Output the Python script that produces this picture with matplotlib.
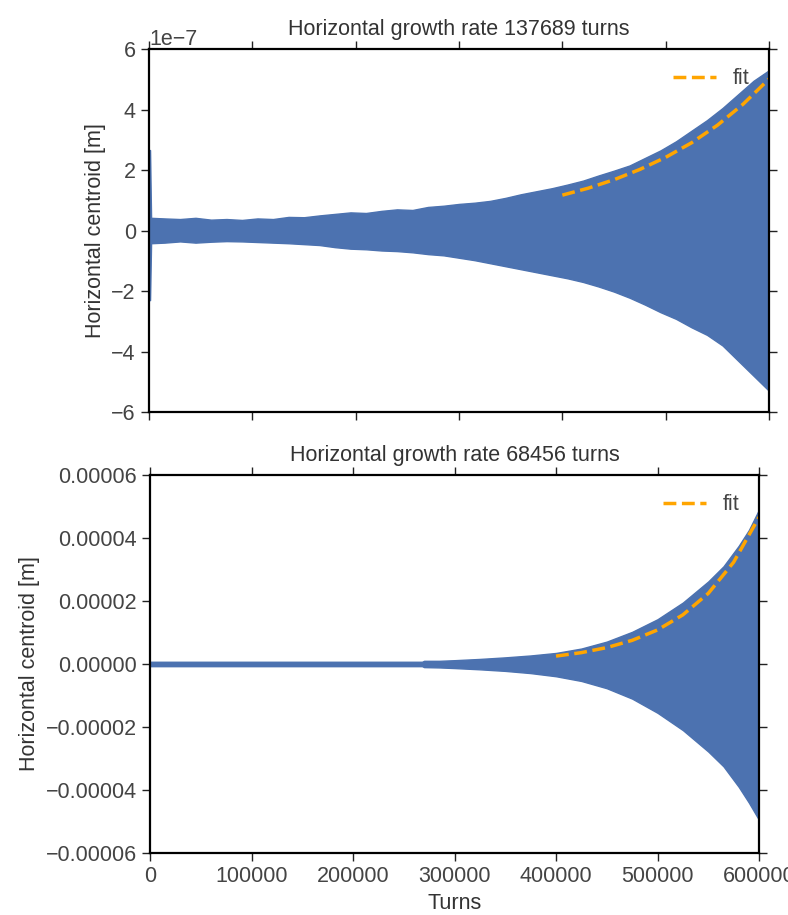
import matplotlib
matplotlib.use("Agg")
import matplotlib.pyplot as plt
from matplotlib.ticker import ScalarFormatter

plt.rcParams['font.family'] = ['Liberation Sans', 'DejaVu Sans']

# top panel envelope, values in units of 1e-7 m
turns_a = [0, 1000, 2000, 15000, 30000, 45000, 60000, 75000, 90000, 105000, 120000,
           135000, 150000, 165000, 180000, 195000, 210000, 225000, 240000, 255000,
           270000, 285000, 300000, 315000, 330000, 345000, 360000, 375000, 390000,
           405000, 420000, 435000, 450000, 465000, 480000, 495000, 510000, 525000,
           540000, 555000, 570000, 585000, 600000]
upper_a = [2.66, 2.66, 0.42, 0.40, 0.38, 0.42, 0.36, 0.38, 0.35, 0.40, 0.38,
           0.45, 0.44, 0.50, 0.55, 0.60, 0.58, 0.65, 0.70, 0.68,
           0.78, 0.82, 0.88, 0.92, 0.98, 1.08, 1.20, 1.30, 1.40,
           1.52, 1.65, 1.82, 1.98, 2.15, 2.40, 2.65, 2.95, 3.30,
           3.65, 4.05, 4.50, 4.95, 5.30]
lower_a = [-2.30, -2.30, -0.42, -0.40, -0.36, -0.40, -0.37, -0.35, -0.36, -0.38, -0.40,
           -0.42, -0.45, -0.48, -0.55, -0.60, -0.62, -0.66, -0.68, -0.72,
           -0.78, -0.82, -0.90, -0.98, -1.08, -1.18, -1.28, -1.38, -1.48,
           -1.58, -1.70, -1.85, -2.02, -2.22, -2.45, -2.70, -2.92, -3.20,
           -3.45, -3.80, -4.30, -4.80, -5.30]
fit_turns_a = [400000, 425000, 450000, 475000, 500000, 525000, 550000, 575000, 600000]
fit_a = [1.17, 1.40, 1.68, 2.02, 2.42, 2.90, 3.48, 4.18, 5.01]

# bottom panel envelope, values in units of 1e-5 m
turns_b = [0, 100000, 200000, 268000, 270000, 285000, 300000, 325000, 350000, 375000,
           400000, 425000, 450000, 475000, 500000, 525000, 550000, 565000, 580000,
           590000, 600000]
upper_b = [0.07, 0.07, 0.07, 0.07, 0.10, 0.10, 0.12, 0.16, 0.21, 0.27,
           0.35, 0.49, 0.71, 1.02, 1.42, 1.95, 2.62, 3.10, 3.75,
           4.25, 4.90]
lower_b = [-0.07, -0.07, -0.07, -0.07, -0.10, -0.11, -0.13, -0.17, -0.22, -0.29,
           -0.39, -0.54, -0.77, -1.10, -1.55, -2.10, -2.78, -3.25, -3.90,
           -4.40, -4.95]
fit_turns_b = [400000, 425000, 450000, 475000, 500000, 525000, 550000, 575000, 600000]
fit_b = [0.25, 0.36, 0.52, 0.75, 1.08, 1.56, 2.24, 3.23, 4.66]

blue = '#4c72b0'
text_col = '#333333'
fs = 15.5

fig = plt.figure(figsize=(7.88, 9.15), dpi=100)
ax1 = fig.add_axes([0.1891, 0.5497, 0.7868, 0.3967])
ax2 = fig.add_axes([0.1904, 0.0678, 0.7728, 0.4131])

panels = [
    (ax1, turns_a, upper_a, lower_a, fit_turns_a, fit_a, 1e-7, 6e-7, 137689),
    (ax2, turns_b, upper_b, lower_b, fit_turns_b, fit_b, 1e-5, 6e-5, 68456),
]

for ax, t, up, lo, ft, fv, scale, lim, rate in panels:
    ax.fill_between(t, [u * scale for u in up], [l * scale for l in lo],
                    color=blue, linewidth=1, edgecolor=blue)
    ax.plot(ft, [v * scale for v in fv], '--', color='orange', linewidth=2.5, label='fit')
    ax.set_xlim(0, 600000)
    ax.set_ylim(-lim, lim)
    ax.set_xticks([0, 100000, 200000, 300000, 400000, 500000, 600000])
    ax.set_title(f'Horizontal growth rate {rate} turns', fontsize=fs, color=text_col, pad=10)
    ax.set_ylabel('Horizontal centroid [m]', fontsize=fs, color=text_col)
    ax.tick_params(direction='out', top=True, right=True, length=6, width=1,
                   labelsize=fs, labelcolor='#444444', color='#222222')
    ax.yaxis.get_offset_text().set_fontsize(fs)
    ax.yaxis.get_offset_text().set_color('#444444')
    for s in ax.spines.values():
        s.set_linewidth(1.6)
        s.set_color('black')
    leg = ax.legend(loc='upper right', frameon=False, fontsize=fs)
    for txt in leg.get_texts():
        txt.set_color('#444444')

# bottom panel shows plain decimals instead of an offset
fmt = ScalarFormatter(useOffset=False)
fmt.set_scientific(False)
ax2.yaxis.set_major_formatter(fmt)

ax1.set_xticklabels([])
ax2.set_xlabel('Turns', fontsize=fs, color=text_col)

fig.savefig('out.png', dpi=100)
